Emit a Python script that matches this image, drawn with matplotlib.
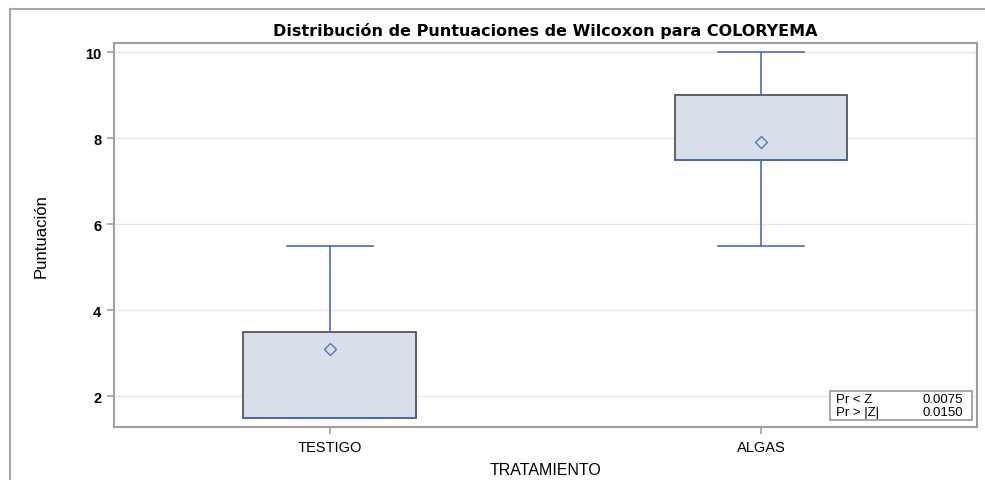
"""Boxplot of Wilcoxon scores for COLORYEMA by treatment."""

import matplotlib
matplotlib.use('Agg')
import matplotlib.pyplot as plt
from matplotlib.lines import Line2D
from matplotlib.patches import Rectangle

# Data
groups = ["TESTIGO", "ALGAS"]
whislo = [1.5, 5.5]
q1 = [1.5, 7.5]
med = [1.5, 7.5]
q3 = [3.5, 9.0]
whishi = [5.5, 10.0]
means = [3.1, 7.9]
y_ticks = [2, 4, 6, 8, 10]
p_labels = ["Pr < Z", "Pr > |Z|"]
p_values = ["0.0075", "0.0150"]

BLUE = '#4a6cb8'
FILL = '#d9dfea'
EDGE = '#555555'
FRAME = '#a0a0a0'


def main():
    fig = plt.figure(figsize=(9.85, 4.81), dpi=100)
    ax = fig.add_axes([0.1157, 0.110, 0.876, 0.7985])

    # outer figure border (top and left only visible)
    fig.add_artist(Line2D([10 / 985, 1.0], [1 - 10 / 481] * 2, color='#a8a8a8', lw=1.5,
                          transform=fig.transFigure))
    fig.add_artist(Line2D([10 / 985] * 2, [0, 1 - 10 / 481], color='#a8a8a8', lw=1.5,
                          transform=fig.transFigure))

    stats = []
    for i, g in enumerate(groups):
        stats.append(dict(label=g, whislo=whislo[i], q1=q1[i], med=med[i],
                          q3=q3[i], whishi=whishi[i], mean=means[i], fliers=[]))

    ax.bxp(stats, positions=[0, 1], widths=0.4, patch_artist=True, showmeans=True,
           boxprops=dict(facecolor=FILL, edgecolor=EDGE, linewidth=1.3),
           whiskerprops=dict(color=BLUE, linewidth=1.2),
           capprops=dict(color=BLUE, linewidth=1.2),
           medianprops=dict(color=BLUE, linewidth=1.2),
           meanprops=dict(marker='D', markerfacecolor='none', markeredgecolor=BLUE,
                          markersize=6, markeredgewidth=0.9),
           capwidths=0.2, zorder=3)

    ax.set_xlim(-0.5, 1.5)
    ax.set_ylim(1.28, 10.21)
    ax.set_yticks(y_ticks)
    ax.set_yticklabels([str(t) for t in y_ticks], fontsize=10.5, fontweight='bold',
                       family='Liberation Sans')
    ax.set_xticks([0, 1])
    ax.set_xticklabels(groups, fontsize=10.5, family='Liberation Sans')
    ax.tick_params(axis='both', direction='out', length=5, color=FRAME, width=1.2, pad=4)

    ax.grid(axis='y', color='#e6e6e6', linewidth=1.0, zorder=0)
    ax.set_axisbelow(True)
    for s in ax.spines.values():
        s.set_color(FRAME)
        s.set_linewidth(1.5)

    ax.set_title("Distribución de Puntuaciones de Wilcoxon para COLORYEMA",
                 fontsize=11.5, fontweight='bold', pad=6)
    ax.set_xlabel("TRATAMIENTO", fontsize=11.5, family='Liberation Sans', labelpad=6)
    ax.set_ylabel("Puntuación", fontsize=12,
                  family=['Liberation Sans Narrow', 'Liberation Sans'], labelpad=26)

    # p-value inset
    ax.add_patch(Rectangle((0.8297, 0.018), 0.1643, 0.076, transform=ax.transAxes,
                           facecolor='white', edgecolor=FRAME, linewidth=1.3, zorder=5))
    for i, (lab, val) in enumerate(zip(p_labels, p_values)):
        y = 0.074 - i * 0.035
        ax.text(0.837, y, lab, transform=ax.transAxes, fontsize=9.5,
                family='Liberation Sans', va='center', ha='left', zorder=6)
        ax.text(0.984, y, val, transform=ax.transAxes, fontsize=9.5,
                family='Liberation Sans', va='center', ha='right', zorder=6)

    fig.savefig("out.png", dpi=100)


if __name__ == "__main__":
    main()
